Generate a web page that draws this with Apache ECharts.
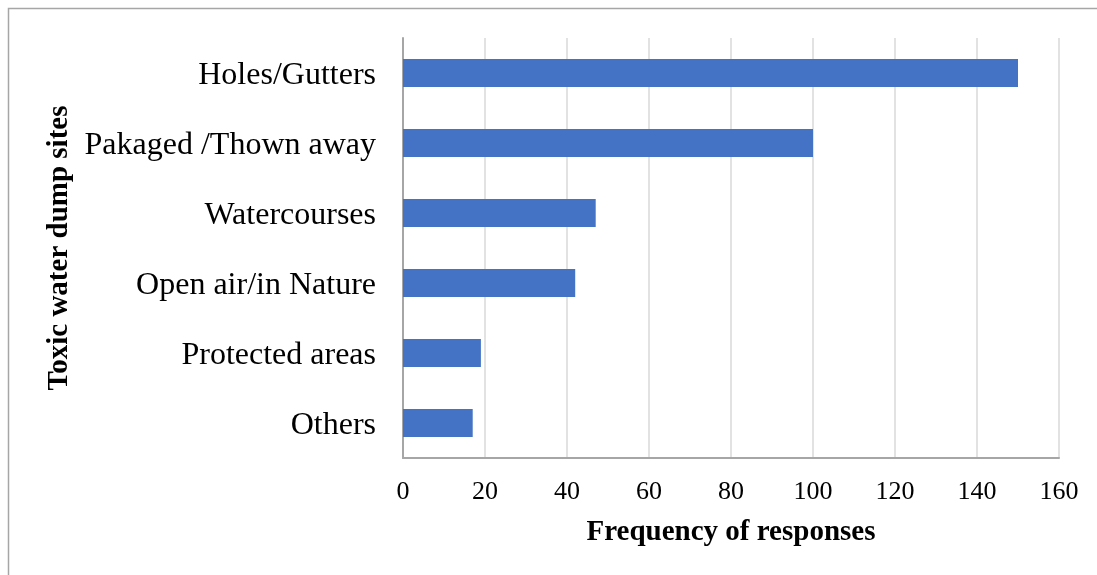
<!DOCTYPE html>
<html>
<head>
<meta charset="utf-8">
<style>
  html, body { margin: 0; padding: 0; background: #ffffff; }
  #chart { width: 1097px; height: 575px; }
</style>
<script src="https://cdn.jsdelivr.net/npm/echarts@6/dist/echarts.min.js"></script>
</head>
<body>
<div id="chart"></div>
<script>
// Dump sites reported for toxic water, with response counts
const categories = [
  'Holes/Gutters',
  'Pakaged /Thown away',
  'Watercourses',
  'Open air/in Nature',
  'Protected areas',
  'Others'
];
const responses = [150, 100, 47, 42, 19, 17];
const xTicks = [0, 20, 40, 60, 80, 100, 120, 140, 160];

const serif = '"Liberation Serif", "Times New Roman", serif';
const chart = echarts.init(document.getElementById('chart'));

chart.setOption({
  animation: false,
  backgroundColor: '#ffffff',
  graphic: [{
    type: 'rect',
    shape: { x: 8.5, y: 8.5, width: 1200, height: 700 },
    style: { fill: 'none', stroke: '#a6a6a6', lineWidth: 1.5 },
    silent: true
  }],
  grid: { left: 403, right: 38, top: 38, bottom: 117, containLabel: false },
  xAxis: {
    type: 'value',
    min: xTicks[0],
    max: xTicks[xTicks.length - 1],
    interval: xTicks[1] - xTicks[0],
    name: 'Frequency of responses',
    nameLocation: 'middle',
    nameGap: 60,
    nameTextStyle: { fontFamily: serif, fontSize: 29, fontWeight: 'bold', color: '#000000' },
    axisLine: { show: true, lineStyle: { color: '#a6a6a6', width: 2 } },
    axisTick: { show: false },
    axisLabel: { fontFamily: serif, fontSize: 26, color: '#000000', margin: 21 },
    splitLine: { show: true, lineStyle: { color: '#d9d9d9', width: 1.5 } }
  },
  yAxis: {
    type: 'category',
    data: categories,
    inverse: true,
    name: 'Toxic water dump sites',
    nameLocation: 'middle',
    nameGap: 320,
    nameRotate: 90,
    nameTextStyle: { fontFamily: serif, fontSize: 29, fontWeight: 'bold', color: '#000000' },
    axisLine: { show: true, lineStyle: { color: '#a6a6a6', width: 2 } },
    axisTick: { show: false },
    axisLabel: {
      margin: 27,
      formatter: v => '{c|' + v + '}',
      rich: {
        c: { fontFamily: serif, fontSize: 32, color: '#000000', padding: [6, 0, 0, 0] }
      }
    },
    splitLine: { show: false }
  },
  series: [{
    type: 'bar',
    data: responses,
    barCategoryGap: '60%',
    itemStyle: { color: '#4472c4' }
  }]
});
</script>
</body>
</html>
